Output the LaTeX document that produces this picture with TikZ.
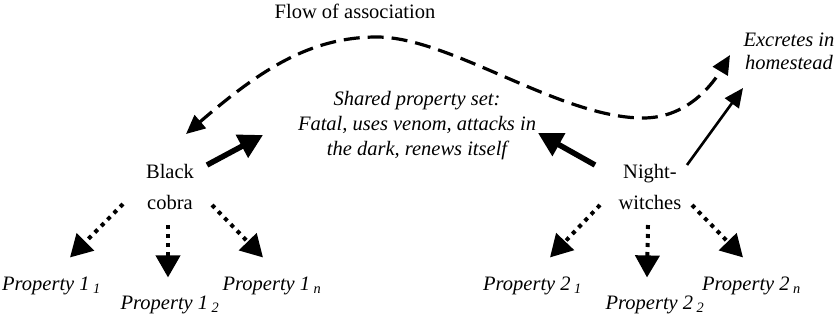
\documentclass[tikz,border=0pt]{standalone}
\usepackage{fontspec}
\setmainfont{Liberation Serif}
\usetikzlibrary{arrows.meta,calc}
\begin{document}
\begin{tikzpicture}[x=1pt,y=-1pt,
  lbl/.style={inner sep=0pt,font=\fontsize{20.5}{25}\selectfont},
  prop/.style={inner sep=0pt,font=\fontsize{20.5}{25}\selectfont\itshape,anchor=base},
  thickarr/.style={line width=5.5pt,-{Triangle[length=24pt,width=25pt]}},
  thinarr/.style={line width=2.6pt,-{Triangle[length=19pt,width=17pt]}},
  dotarr/.style={line width=4pt,dash pattern=on 4pt off 5pt,-{Triangle[length=22pt,width=24pt]}},
  flowarr/.style={line width=3.2pt,dash pattern=on 16pt off 8pt,{Triangle[length=19pt,width=17pt]}-{Triangle[length=19pt,width=17pt]}},
]
\useasboundingbox (0,0) rectangle (835,322);

\node[lbl,anchor=base] (flow) at (355,18.5) {Flow of association};
\node[lbl,align=center,font=\fontsize{20.5}{25}\selectfont\itshape] (shared) at (417,126)
  {Shared property set:\\Fatal, uses venom, attacks in\\the dark, renews itself};
\node[lbl,align=center,font=\fontsize{20.5}{31}\selectfont] (bc) at (170,187) {Black\\cobra};
\node[lbl,align=center,font=\fontsize{20.5}{31}\selectfont] (nw) at (650,187) {Night-\\witches};
\node[lbl,align=center,font=\fontsize{20.5}{23}\selectfont\itshape] (exc) at (789,51.5) {Excretes in\\homestead};

\node[prop] (p11) at (51.5,290) {Property 1\,\textsubscript{1}};
\node[prop] (p12) at (170,309) {Property 1\,\textsubscript{2}};
\node[prop] (p1n) at (272,290) {Property 1\,\textsubscript{\itshape n}};
\node[prop] (p21) at (532.5,290) {Property 2\,\textsubscript{1}};
\node[prop] (p22) at (655,309) {Property 2\,\textsubscript{2}};
\node[prop] (p2n) at (751.5,290) {Property 2\,\textsubscript{\itshape n}};

\draw[thickarr] ($(bc)+(37,-22)$) -- ($(shared)+(-154,9)$);
\draw[thickarr] ($(nw)+(-55,-22)$) -- ($(shared)+(121,7)$);
\draw[thinarr] ($(nw)+(37,-22)$) -- ($(exc)+(-46,36.5)$);
\draw[flowarr] ($(bc)+(16,-53)$) .. controls (260,70) and (310,37) .. (377,37)
  .. controls (450,37) and (560,118) .. (643,118)
  .. controls (690,118) and (715,80) .. ($(exc)+(-59,3.5)$);

\draw[dotarr] ($(bc)+(-47,17)$) -- ($(p11)+(18.5,-28)$);
\draw[dotarr] ($(bc)+(-2,38)$) -- ($(p12)+(-2,-27)$);
\draw[dotarr] ($(bc)+(42,18)$) -- ($(p1n)+(-9,-28)$);
\draw[dotarr] ($(nw)+(-50,18)$) -- ($(p21)+(17.5,-28)$);
\draw[dotarr] ($(nw)+(-2,38)$) -- ($(p22)+(-8,-27)$);
\draw[dotarr] ($(nw)+(42,18)$) -- ($(p2n)+(-8.5,-28)$);
\end{tikzpicture}
\end{document}
